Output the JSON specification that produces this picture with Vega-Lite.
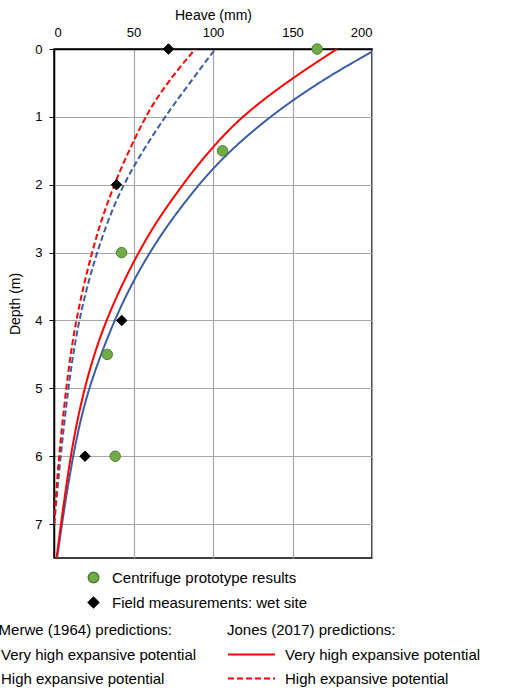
{
  "$schema": "https://vega.github.io/schema/vega-lite/v6.json",
  "autosize": {"type": "none"},
  "padding": {"left": 54, "top": 49, "right": 133, "bottom": 130},
  "width": 318,
  "height": 509,
  "background": "white",
  "config": {
    "font": "Liberation Sans",
    "view": {"stroke": "black", "strokeWidth": 1.5},
    "axis": {
      "labelFont": "Liberation Sans", "titleFont": "Liberation Sans",
      "labelFontSize": 13, "titleFontSize": 14, "titleFontWeight": "normal",
      "labelColor": "black", "titleColor": "black",
      "domainColor": "black", "domainWidth": 1.5,
      "gridColor": "#a6a6a6", "gridWidth": 1.2,
      "tickColor": "black"
    },
    "legend": {
      "labelFont": "Liberation Sans", "titleFont": "Liberation Sans",
      "labelFontSize": 15, "titleFontSize": 15, "titleFontWeight": "normal",
      "labelColor": "black", "titleColor": "black",
      "labelLimit": 400, "titleLimit": 400
    }
  },
  "datasets": {
    "curves": [
      {"model": "VdM", "potential": "Very high expansive potential", "depth": 0, "heave": 203},
      {"model": "VdM", "potential": "Very high expansive potential", "depth": 0.25, "heave": 184},
      {"model": "VdM", "potential": "Very high expansive potential", "depth": 0.5, "heave": 166.5},
      {"model": "VdM", "potential": "Very high expansive potential", "depth": 0.75, "heave": 150.5},
      {"model": "VdM", "potential": "Very high expansive potential", "depth": 1, "heave": 136},
      {"model": "VdM", "potential": "Very high expansive potential", "depth": 1.25, "heave": 123},
      {"model": "VdM", "potential": "Very high expansive potential", "depth": 1.5, "heave": 111},
      {"model": "VdM", "potential": "Very high expansive potential", "depth": 1.75, "heave": 100.5},
      {"model": "VdM", "potential": "Very high expansive potential", "depth": 2, "heave": 91},
      {"model": "VdM", "potential": "Very high expansive potential", "depth": 2.5, "heave": 74.2},
      {"model": "VdM", "potential": "Very high expansive potential", "depth": 3, "heave": 60},
      {"model": "VdM", "potential": "Very high expansive potential", "depth": 3.5, "heave": 48},
      {"model": "VdM", "potential": "Very high expansive potential", "depth": 4, "heave": 38},
      {"model": "VdM", "potential": "Very high expansive potential", "depth": 4.5, "heave": 29.5},
      {"model": "VdM", "potential": "Very high expansive potential", "depth": 5, "heave": 22},
      {"model": "VdM", "potential": "Very high expansive potential", "depth": 5.5, "heave": 16.3},
      {"model": "VdM", "potential": "Very high expansive potential", "depth": 6, "heave": 12},
      {"model": "VdM", "potential": "Very high expansive potential", "depth": 6.5, "heave": 8.3},
      {"model": "VdM", "potential": "Very high expansive potential", "depth": 7, "heave": 5},
      {"model": "VdM", "potential": "Very high expansive potential", "depth": 7.5, "heave": 1.9},
      {"model": "VdM", "potential": "High expansive potential", "depth": 0, "heave": 101.5},
      {"model": "VdM", "potential": "High expansive potential", "depth": 0.25, "heave": 93.3},
      {"model": "VdM", "potential": "High expansive potential", "depth": 0.5, "heave": 85.5},
      {"model": "VdM", "potential": "High expansive potential", "depth": 0.75, "heave": 77.5},
      {"model": "VdM", "potential": "High expansive potential", "depth": 1, "heave": 69.8},
      {"model": "VdM", "potential": "High expansive potential", "depth": 1.5, "heave": 55.8},
      {"model": "VdM", "potential": "High expansive potential", "depth": 2, "heave": 43.5},
      {"model": "VdM", "potential": "High expansive potential", "depth": 2.5, "heave": 34.3},
      {"model": "VdM", "potential": "High expansive potential", "depth": 3, "heave": 27},
      {"model": "VdM", "potential": "High expansive potential", "depth": 3.5, "heave": 20.8},
      {"model": "VdM", "potential": "High expansive potential", "depth": 4, "heave": 15.8},
      {"model": "VdM", "potential": "High expansive potential", "depth": 4.5, "heave": 12},
      {"model": "VdM", "potential": "High expansive potential", "depth": 5, "heave": 9},
      {"model": "VdM", "potential": "High expansive potential", "depth": 5.5, "heave": 6.5},
      {"model": "VdM", "potential": "High expansive potential", "depth": 6, "heave": 4.2},
      {"model": "VdM", "potential": "High expansive potential", "depth": 6.5, "heave": 2.1},
      {"model": "VdM", "potential": "High expansive potential", "depth": 7, "heave": 0.2},
      {"model": "Jones", "potential": "Very high expansive potential", "depth": 0, "heave": 178},
      {"model": "Jones", "potential": "Very high expansive potential", "depth": 0.25, "heave": 161.5},
      {"model": "Jones", "potential": "Very high expansive potential", "depth": 0.5, "heave": 146},
      {"model": "Jones", "potential": "Very high expansive potential", "depth": 0.75, "heave": 131.5},
      {"model": "Jones", "potential": "Very high expansive potential", "depth": 1, "heave": 118.5},
      {"model": "Jones", "potential": "Very high expansive potential", "depth": 1.25, "heave": 107.5},
      {"model": "Jones", "potential": "Very high expansive potential", "depth": 1.5, "heave": 98},
      {"model": "Jones", "potential": "Very high expansive potential", "depth": 1.75, "heave": 89},
      {"model": "Jones", "potential": "Very high expansive potential", "depth": 2, "heave": 81},
      {"model": "Jones", "potential": "Very high expansive potential", "depth": 2.5, "heave": 65.5},
      {"model": "Jones", "potential": "Very high expansive potential", "depth": 3, "heave": 53},
      {"model": "Jones", "potential": "Very high expansive potential", "depth": 3.5, "heave": 42.2},
      {"model": "Jones", "potential": "Very high expansive potential", "depth": 4, "heave": 32.8},
      {"model": "Jones", "potential": "Very high expansive potential", "depth": 4.5, "heave": 25.2},
      {"model": "Jones", "potential": "Very high expansive potential", "depth": 5, "heave": 19.2},
      {"model": "Jones", "potential": "Very high expansive potential", "depth": 5.5, "heave": 14.4},
      {"model": "Jones", "potential": "Very high expansive potential", "depth": 6, "heave": 10.5},
      {"model": "Jones", "potential": "Very high expansive potential", "depth": 6.5, "heave": 7.3},
      {"model": "Jones", "potential": "Very high expansive potential", "depth": 7, "heave": 4.4},
      {"model": "Jones", "potential": "Very high expansive potential", "depth": 7.5, "heave": 1.6},
      {"model": "Jones", "potential": "High expansive potential", "depth": 0, "heave": 88.8},
      {"model": "Jones", "potential": "High expansive potential", "depth": 0.25, "heave": 79.8},
      {"model": "Jones", "potential": "High expansive potential", "depth": 0.5, "heave": 71.5},
      {"model": "Jones", "potential": "High expansive potential", "depth": 0.75, "heave": 64},
      {"model": "Jones", "potential": "High expansive potential", "depth": 1, "heave": 57.5},
      {"model": "Jones", "potential": "High expansive potential", "depth": 1.5, "heave": 47},
      {"model": "Jones", "potential": "High expansive potential", "depth": 2, "heave": 37.8},
      {"model": "Jones", "potential": "High expansive potential", "depth": 2.5, "heave": 30},
      {"model": "Jones", "potential": "High expansive potential", "depth": 3, "heave": 23.8},
      {"model": "Jones", "potential": "High expansive potential", "depth": 3.5, "heave": 18.5},
      {"model": "Jones", "potential": "High expansive potential", "depth": 4, "heave": 13.9},
      {"model": "Jones", "potential": "High expansive potential", "depth": 4.5, "heave": 10.4},
      {"model": "Jones", "potential": "High expansive potential", "depth": 5, "heave": 7.7},
      {"model": "Jones", "potential": "High expansive potential", "depth": 5.5, "heave": 5.3},
      {"model": "Jones", "potential": "High expansive potential", "depth": 6, "heave": 3.2},
      {"model": "Jones", "potential": "High expansive potential", "depth": 6.5, "heave": 1.5},
      {"model": "Jones", "potential": "High expansive potential", "depth": 7, "heave": 0}
    ],
    "points": [
      {"series": "Centrifuge prototype results", "depth": 0, "heave": 165.5},
      {"series": "Centrifuge prototype results", "depth": 1.5, "heave": 106},
      {"series": "Centrifuge prototype results", "depth": 3, "heave": 42.5},
      {"series": "Centrifuge prototype results", "depth": 4.5, "heave": 33.5},
      {"series": "Centrifuge prototype results", "depth": 6, "heave": 38.5},
      {"series": "Field measurements: wet site", "depth": 0, "heave": 72},
      {"series": "Field measurements: wet site", "depth": 2, "heave": 39.3},
      {"series": "Field measurements: wet site", "depth": 4, "heave": 42.6},
      {"series": "Field measurements: wet site", "depth": 6, "heave": 19.5}
    ]
  },
  "encoding": {
    "x": {
      "field": "heave", "type": "quantitative",
      "scale": {"domain": [0, 200], "nice": false, "zero": false},
      "axis": {"orient": "top", "title": "Heave (mm)", "values": [0, 50, 100, 150, 200],
               "ticks": false, "labelPadding": 10, "titlePadding": 4, "grid": true}
    },
    "y": {
      "field": "depth", "type": "quantitative",
      "scale": {"domain": [0, 7.5], "nice": false, "zero": false, "reverse": true},
      "axis": {"title": "Depth (m)", "values": [0, 1, 2, 3, 4, 5, 6, 7],
               "tickSize": 5, "labelPadding": 7, "titlePadding": 12, "grid": true}
    }
  },
  "layer": [
    {
      "data": {"name": "curves"},
      "transform": [{"filter": "datum.model === 'VdM'"}],
      "mark": {"type": "line", "clip": true, "strokeWidth": 2, "interpolate": "basis"},
      "encoding": {
        "order": {"field": "heave", "type": "quantitative"},
        "color": {
          "field": "potential", "type": "nominal",
          "scale": {"domain": ["Very high expansive potential", "High expansive potential"], "range": ["#3a5ea3", "#3a5ea3"]},
          "legend": {"title": "Van der Merwe (1964) predictions:", "orient": "none", "legendX": -111, "legendY": 574,
                     "symbolType": "stroke", "symbolSize": 2209, "symbolStrokeWidth": 2, "clipHeight": 15, "labelOffset": 9, "rowPadding": 8, "titlePadding": 9}
        },
        "strokeDash": {
          "field": "potential", "type": "nominal",
          "scale": {"domain": ["Very high expansive potential", "High expansive potential"], "range": [[1, 0], [6, 3]]},
          "legend": {"title": "Van der Merwe (1964) predictions:", "orient": "none", "legendX": -111, "legendY": 574,
                     "symbolType": "stroke", "symbolSize": 2209, "symbolStrokeWidth": 2, "clipHeight": 15, "labelOffset": 9, "rowPadding": 8, "titlePadding": 9}
        }
      }
    },
    {
      "data": {"name": "curves"},
      "transform": [{"filter": "datum.model === 'Jones'"}],
      "mark": {"type": "line", "clip": true, "strokeWidth": 2, "interpolate": "basis"},
      "encoding": {
        "order": {"field": "heave", "type": "quantitative"},
        "color": {
          "field": "potential", "type": "nominal",
          "scale": {"domain": ["Very high expansive potential", "High expansive potential"], "range": ["#ff0000", "#ff0000"]},
          "legend": {"title": "Jones (2017) predictions:", "orient": "none", "legendX": 173, "legendY": 574,
                     "symbolType": "stroke", "symbolSize": 2209, "symbolStrokeWidth": 2, "clipHeight": 15, "labelOffset": 9, "rowPadding": 8, "titlePadding": 9}
        },
        "strokeDash": {
          "field": "potential", "type": "nominal",
          "scale": {"domain": ["Very high expansive potential", "High expansive potential"], "range": [[1, 0], [6, 3]]},
          "legend": {"title": "Jones (2017) predictions:", "orient": "none", "legendX": 173, "legendY": 574,
                     "symbolType": "stroke", "symbolSize": 2209, "symbolStrokeWidth": 2, "clipHeight": 15, "labelOffset": 9, "rowPadding": 8, "titlePadding": 9}
        }
      }
    },
    {
      "data": {"name": "points"},
      "mark": {"type": "point", "filled": true, "size": 110, "strokeWidth": 1, "opacity": 1},
      "encoding": {
        "shape": {
          "field": "series", "type": "nominal",
          "scale": {"domain": ["Centrifuge prototype results", "Field measurements: wet site"], "range": ["circle", "diamond"]},
          "legend": {"title": null, "orient": "none", "legendX": 32, "legendY": 521, "labelOffset": 11, "rowPadding": 8, "symbolSize": 110}
        },
        "fill": {
          "field": "series", "type": "nominal",
          "scale": {"domain": ["Centrifuge prototype results", "Field measurements: wet site"], "range": ["#70ad47", "#000000"]},
          "legend": {"title": null, "orient": "none", "legendX": 32, "legendY": 521, "labelOffset": 11, "rowPadding": 8, "symbolSize": 110}
        },
        "stroke": {
          "field": "series", "type": "nominal",
          "scale": {"domain": ["Centrifuge prototype results", "Field measurements: wet site"], "range": ["#4f7d32", "#000000"]},
          "legend": {"title": null, "orient": "none", "legendX": 32, "legendY": 521, "labelOffset": 11, "rowPadding": 8, "symbolSize": 110}
        }
      }
    }
  ],
  "resolve": {"scale": {"color": "independent", "strokeDash": "independent", "shape": "independent", "fill": "independent", "stroke": "independent"}}
}
